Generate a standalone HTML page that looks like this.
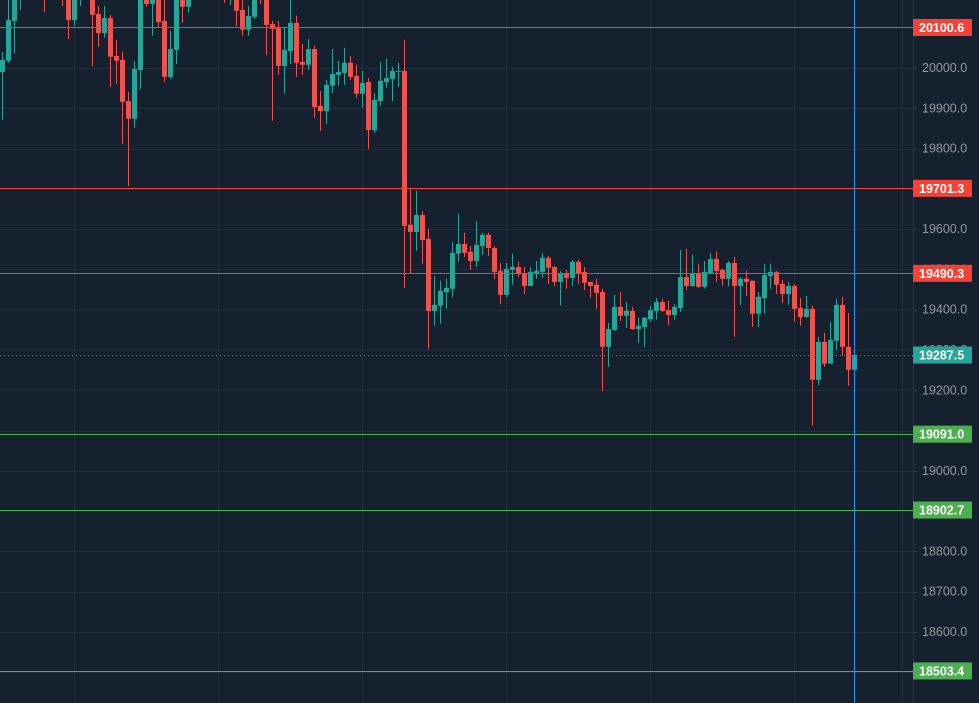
<!DOCTYPE html>
<html><head><meta charset="utf-8">
<style>
html,body{margin:0;padding:0;background:#161f2f;}
svg{display:block;font-family:"Liberation Sans",sans-serif;}
</style></head>
<body>
<svg id="chart" width="979" height="703" viewBox="0 0 979 703" xmlns="http://www.w3.org/2000/svg">
<rect x="0" y="0" width="979" height="703" fill="#162130"/>
<g id="grid"></g>
<g id="candles"></g>
<g id="levels"></g>
<g id="axis"></g>
</svg>
<script>
const opens = [19990,20018,20117,20189,20240,20280,20250,20280,20200,20230,20210,20194,20119,20176,20220,20181,20134,20087,20124,20030,20020,19918,19874,19995,20181,20159,20181,20117,19978,20045,20176,20152,20180,20220,20200,20240,20210,20200,20180,20176,20144,20095,20127,20190,20176,20109,20099,20005,20042,20112,20015,20008,20047,19906,19893,19956,19983,19988,20013,19980,19936,19965,19846,19918,19965,19973,19993,19993,19611,19593,19635,19576,19397,19410,19444,19452,19539,19563,19544,19521,19558,19586,19553,19496,19437,19499,19506,19491,19459,19491,19494,19529,19506,19469,19491,19479,19519,19494,19469,19462,19444,19308,19350,19407,19385,19397,19352,19357,19377,19397,19419,19399,19387,19404,19481,19459,19491,19457,19491,19526,19499,19477,19516,19459,19477,19472,19390,19429,19484,19494,19464,19439,19459,19404,19382,19402,19226,19320,19266,19323,19412,19308,19251];
const highs = [20040,20181,20210,20260,20290,20300,20310,20300,20250,20260,20240,20210,20200,20220,20240,20200,20154,20154,20132,20070,20040,19941,20018,20200,20200,20200,20200,20174,20092,20200,20195,20195,20240,20250,20260,20260,20230,20220,20230,20200,20169,20154,20200,20210,20195,20117,20117,20102,20176,20130,20060,20072,20055,19943,19970,20047,20018,20050,20030,20008,19993,19975,19938,20015,20023,20003,20013,20070,19700,19695,19645,19601,19484,19472,19477,19568,19638,19591,19558,19620,19591,19591,19558,19516,19516,19539,19519,19506,19506,19521,19541,19534,19509,19496,19499,19524,19524,19506,19469,19477,19452,19367,19437,19444,19419,19407,19380,19382,19410,19429,19427,19422,19414,19548,19551,19536,19514,19521,19541,19544,19501,19521,19531,19481,19496,19472,19444,19514,19514,19496,19474,19469,19464,19429,19434,19410,19333,19343,19370,19427,19432,19392,19295];
const lows = [19871,20013,20037,20144,20220,20230,20240,20139,20180,20180,20154,20072,20104,20154,20180,20005,20052,20075,19953,19961,19812,19707,19851,19948,20152,20080,20099,19965,19973,20010,20112,20137,20175,20190,20190,20190,20180,20162,20157,20104,20080,20080,20122,20159,20032,19869,19983,19936,20010,19978,19983,19995,19876,19844,19861,19938,19956,19958,19970,19926,19901,19799,19839,19906,19951,19918,19953,19454,19491,19546,19514,19303,19360,19365,19402,19432,19519,19531,19499,19506,19536,19534,19477,19414,19432,19462,19481,19439,19459,19477,19479,19464,19459,19410,19452,19459,19464,19449,19429,19402,19198,19258,19347,19372,19355,19350,19318,19308,19370,19375,19395,19362,19375,19395,19449,19457,19454,19452,19491,19469,19459,19459,19333,19412,19434,19357,19357,19390,19452,19439,19417,19412,19370,19360,19380,19112,19213,19258,19266,19300,19285,19211,19245];
const closes = [20020,20119,20194,20243,20270,20250,20290,20200,20230,20200,20180,20119,20181,20200,20190,20132,20087,20124,20028,20018,19916,19874,19998,20181,20159,20185,20114,19978,20047,20176,20152,20176,20220,20200,20240,20210,20190,20180,20210,20142,20095,20129,20176,20170,20107,20097,20005,20045,20112,20013,20008,20047,19903,19893,19958,19985,19990,20013,19978,19936,19963,19846,19921,19968,19975,19993,19993,19608,19593,19635,19573,19397,19412,19447,19454,19541,19563,19541,19521,19561,19586,19553,19494,19437,19501,19506,19491,19459,19494,19496,19529,19504,19469,19491,19479,19519,19489,19467,19459,19442,19308,19352,19407,19385,19397,19352,19360,19380,19399,19419,19397,19387,19407,19481,19459,19491,19457,19494,19526,19496,19477,19516,19459,19477,19469,19390,19432,19486,19494,19462,19439,19459,19402,19382,19402,19226,19320,19266,19325,19412,19308,19251,19287.5];
const tickLabels = ["20000.0","19900.0","19800.0","19700.0","19600.0","19500.0","19400.0","19300.0","19200.0","19100.0","19000.0","18900.0","18800.0","18700.0","18600.0","18500.0"];
const levelPrices = [20100.6,19701.3,19490.3,19091.0,18902.7,18503.4];
const levelKinds = ["red","red","red","green","green","green"];
const lastPrice = 19287.5;

const NS="http://www.w3.org/2000/svg";
function yScale(p){return 68+(20000-p)*0.40286;}
function xScale(i){return 2+6*i;}
function mk(tag,attrs,parent){const e=document.createElementNS(NS,tag);for(const k in attrs)e.setAttribute(k,attrs[k]);parent.appendChild(e);return e;}
const grid=document.getElementById('grid'),cg=document.getElementById('candles'),lv=document.getElementById('levels'),ax=document.getElementById('axis');
// grid
tickLabels.forEach(t=>{const y=Math.round(yScale(parseFloat(t)))+0.5;
 const l=mk('line',{x1:0,x2:913,y1:y,y2:y,stroke:'#232e3d','stroke-width':1},grid);
 
 });
for(let i=12;i<143;i+=24){const x=xScale(i)+0.5;
 const l=mk('line',{x1:x,x2:x,y1:0,y2:703,stroke:'#232e3d','stroke-width':1},grid);
 
 }
{const l=mk('line',{x1:902.5,x2:902.5,y1:0,y2:703,stroke:'#232e3d','stroke-width':1},grid);
 
 }
// candles
for(let i=0;i<opens.length;i++){
 const o=opens[i],c=closes[i],h=highs[i],lo=lows[i];
 const up=c>=o;const col=up?'#26a69a':'#ef5350';
 const x=xScale(i);
 const g=mk('g',{},cg);
 
 
 mk('line',{x1:x+0.5,x2:x+0.5,y1:yScale(h),y2:yScale(lo),stroke:col,'stroke-width':1},g);
 const top=yScale(Math.max(o,c)),bot=yScale(Math.min(o,c));
 mk('rect',{x:x-2,y:top,width:5,height:Math.max(1,bot-top),fill:col},g);
}
// levels
levelPrices.forEach((p,i)=>{const y=Math.round(yScale(p))+0.5;const col=levelKinds[i]==='red'?'#f44336':'#4caf50';
 const l=mk('line',{x1:0,x2:913,y1:y,y2:y,stroke:col,'stroke-width':1},lv);
 
 });
{const y=Math.round(yScale(lastPrice))+0.5;
 const l=mk('line',{x1:0,x2:913,y1:y,y2:y,stroke:'#26a69a','stroke-width':1,'stroke-dasharray':'1 3'},lv);
 
 }
{const l=mk('line',{x1:854.5,x2:854.5,y1:0,y2:703,stroke:'#2196f3','stroke-width':1},lv);
 
 }
// axis
{const l=mk('line',{x1:913.5,x2:913.5,y1:0,y2:703,stroke:'#2a3545','stroke-width':1},ax);
 
 }
tickLabels.forEach(t=>{const y=yScale(parseFloat(t));
 const tk=mk('line',{x1:913,x2:918,y1:Math.round(y)+0.5,y2:Math.round(y)+0.5,stroke:'#2a3545'},ax);
 
 
 const tx=mk('text',{x:922,y:y+4,fill:'#9598a1','font-size':'12.5'},ax);tx.textContent=t;
 
 });
function badge(p,col,name){const y=yScale(p);
 const g=mk('g',{},ax);
 
 
 mk('rect',{x:913,y:y-8.5,width:59,height:17,fill:col},g);
 const tx=mk('text',{x:919,y:y+4.5,fill:'#ffffff','font-size':'12.5','font-weight':'bold'},g);
 tx.textContent=p.toFixed(1);}
levelPrices.forEach((p,i)=>badge(p,levelKinds[i]==='red'?'#f44336':'#4caf50','price-level-label'));
badge(lastPrice,'#26a69a','last-price-label');
</script>
</body></html>
